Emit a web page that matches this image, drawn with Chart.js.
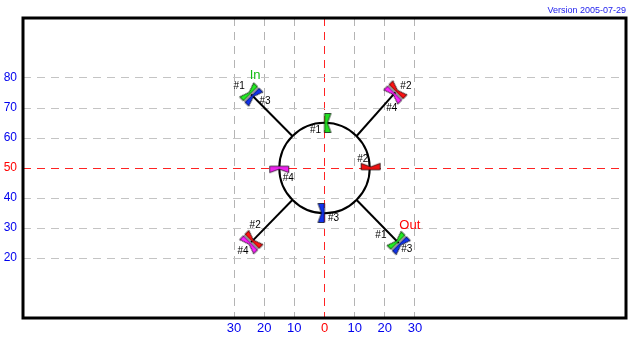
<!DOCTYPE html>
<html lang="en">
<head>
<meta charset="UTF-8">
<title>Valve schematic</title>
<script src="https://cdn.jsdelivr.net/npm/chart.js"></script>
<style>
  body { margin: 0; background: #fff; }
</style>
</head>
<body>
<canvas id="chart" width="640" height="340"></canvas>
<script>
// axis ticks
const xTicks = [-30, -20, -10, 0, 10, 20, 30];
const yTicks = [20, 30, 40, 50, 60, 70, 80];

// tank (circle)
const tankCenter = [0, 50];
const tankRadius = 15;

// pipes: from tank edge out to the valves
const pipeStartX = [-10.5, 10.5, -10.5, 10.5];
const pipeStartY = [60.5, 60.5, 39.5, 39.5];
const pipeEndX = [-24.3, 23.5, -24.3, 24.6];
const pipeEndY = [74.5, 75.2, 25.3, 25];

// valves: green/blue pair (In, Out) and red/magenta pair
const valveGBX = [-24.3, 24.6];
const valveGBY = [74.5, 25];
const valveRMX = [23.5, -24.3];
const valveRMY = [75.2, 25.3];

// sensors on the tank
const sensorX = [0, 15.3, 0, -15];
const sensorY = [65, 49.4, 35, 50.6];
const sensorColors = ['#22dd22', '#ee1111', '#1133ee', '#ee22ee'];
const sensorAngles = [90, 0, -90, 180];

// text labels
const labelText = ['#1', '#3', '#2', '#4', '#2', '#4', '#1', '#3', '#1', '#2', '#3', '#4', 'In', 'Out'];
const labelX = [-28.3, -19.7, 27, 22.3, -23, -27, 18.7, 27.3, -3, 12.7, 3, -12, -23, 28.3];
const labelY = [77.3, 72.3, 77.3, 70, 31, 22.3, 27.7, 23, 62.7, 53, 33.3, 46.7, 80.7, 30.7];
const labelColors = ['#000', '#000', '#000', '#000', '#000', '#000', '#000', '#000', '#000', '#000', '#000', '#000', '#11bb11', '#ff0000'];

// one half of the bow-tie symbol, flat side on the split line
function half(g, color, dir, L, h, n, gap) {
    g.beginPath();
    g.moveTo(-L, dir * gap);
    g.lineTo(-L, dir * h);
    g.lineTo(0, dir * n);
    g.lineTo(L, dir * h);
    g.lineTo(L, dir * gap);
    g.closePath();
    g.fillStyle = color;
    g.fill();
    g.lineWidth = 0.7;
    g.strokeStyle = '#000';
    g.stroke();
}

function valveImage(c1, c2) {
    const cv = document.createElement('canvas');
    cv.width = 26; cv.height = 26;
    const g = cv.getContext('2d');
    g.translate(13, 13);
    half(g, c1, -1, 10, 6.5, 3, 0.9);
    half(g, c2, 1, 10, 6.5, 3, 0.9);
    return cv;
}

function sensorImage(c) {
    const cv = document.createElement('canvas');
    cv.width = 24; cv.height = 24;
    const g = cv.getContext('2d');
    g.translate(12, 12);
    half(g, c, -1, 9.5, 6.5, 3, 0);
    return cv;
}

const gbImg = valveImage('#22ee22', '#1133ee');
const rmImg = valveImage('#ff1111', '#ff22ff');

const pts = (xs, ys) => xs.map((v, i) => ({ x: v, y: ys[i] }));

const datasets = [
    {
        data: pts(sensorX, sensorY),
        pointStyle: sensorColors.map(c => sensorImage(c)),
        rotation: sensorAngles,
        pointRadius: 10
    },
    { data: pts(valveGBX, valveGBY), pointStyle: gbImg, rotation: -45, pointRadius: 10 },
    { data: pts(valveRMX, valveRMY), pointStyle: rmImg, rotation: 45, pointRadius: 10 }
];
pipeStartX.forEach((_, i) => {
    datasets.push({
        data: [{ x: pipeStartX[i], y: pipeStartY[i] }, { x: pipeEndX[i], y: pipeEndY[i] }],
        showLine: true,
        borderColor: '#000',
        borderWidth: 2,
        pointRadius: 0
    });
});

const schematic = {
    id: 'schematic',
    beforeDatasetsDraw(chart) {
        const { ctx, scales: { x, y } } = chart;
        const cx = x.getPixelForValue(tankCenter[0]);
        const cy = y.getPixelForValue(tankCenter[1]);
        const r = x.getPixelForValue(tankRadius) - x.getPixelForValue(0);
        ctx.save();
        ctx.beginPath();
        ctx.arc(cx, cy, r, 0, Math.PI * 2);
        ctx.lineWidth = 2;
        ctx.strokeStyle = '#000';
        ctx.stroke();
        ctx.restore();
    },
    afterDatasetsDraw(chart) {
        const { ctx, scales: { x, y } } = chart;
        ctx.save();
        ctx.textAlign = 'center';
        ctx.textBaseline = 'middle';
        labelText.forEach((t, i) => {
            ctx.font = t.startsWith('#') ? '10px Arial' : '13px Arial';
            ctx.fillStyle = labelColors[i];
            ctx.fillText(t, x.getPixelForValue(labelX[i]), y.getPixelForValue(labelY[i]));
        });
        ctx.restore();
    },
    afterDraw(chart) {
        const { ctx, chartArea: a } = chart;
        ctx.save();
        ctx.lineWidth = 3;
        ctx.strokeStyle = '#000';
        ctx.strokeRect(a.left, a.top, a.right - a.left, a.bottom - a.top);
        ctx.font = '9px Arial';
        ctx.fillStyle = '#2222ee';
        ctx.textAlign = 'right';
        ctx.textBaseline = 'alphabetic';
        ctx.fillText('Version 2005-07-29', a.right, 13);
        ctx.restore();
    }
};

new Chart(document.getElementById('chart'), {
    type: 'scatter',
    data: { datasets },
    plugins: [schematic],
    options: {
        responsive: false,
        animation: false,
        events: [],
        layout: { padding: { top: 18, right: 14, left: 0, bottom: 0 } },
        plugins: { legend: { display: false }, tooltip: { enabled: false } },
        scales: {
            x: {
                type: 'linear', min: -100, max: 100,
                afterBuildTicks: s => { s.ticks = xTicks.map(v => ({ value: v })); },
                afterFit: s => { s.height = 22; },
                border: { display: false, dash: [8, 6] },
                grid: {
                    drawTicks: false,
                    color: c => c.tick && c.tick.value === 0 ? '#ff2222' : '#b4b4b4'
                },
                ticks: {
                    autoSkip: false, maxRotation: 0, padding: 3,
                    font: { family: 'Arial', size: 13 },
                    color: c => c.tick && c.tick.value === 0 ? '#ff0000' : '#0000ee',
                    callback: v => Math.abs(v)
                }
            },
            y: {
                type: 'linear', min: 0, max: 100,
                afterBuildTicks: s => { s.ticks = yTicks.map(v => ({ value: v })); },
                afterFit: s => { s.width = 23; },
                border: { display: false, dash: [8, 6] },
                grid: {
                    drawTicks: false,
                    color: c => c.tick && c.tick.value === 50 ? '#ff2222' : '#c4c4c4'
                },
                ticks: {
                    autoSkip: false, padding: 6,
                    font: { family: 'Arial', size: 12 },
                    color: c => c.tick && c.tick.value === 50 ? '#ff0000' : '#0000ee'
                }
            }
        }
    }
});
</script>
</body>
</html>
